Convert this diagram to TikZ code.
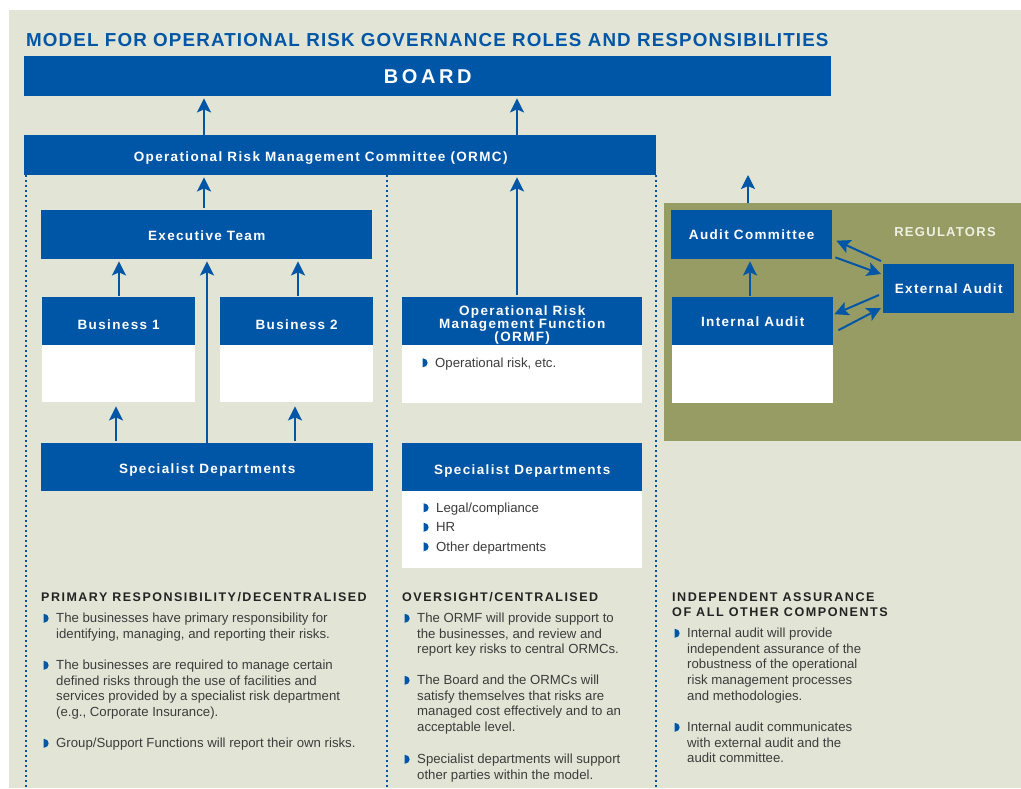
\documentclass[tikz,border=0pt]{standalone}
\usepackage{fontspec}
\usetikzlibrary{arrows.meta,calc}
\setmainfont{Liberation Sans}
\newfontfamily\titlefont[LetterSpace=6]{Liberation Sans}
\newfontfamily\boardfont[LetterSpace=18]{Liberation Sans}
\newfontfamily\labelfont[LetterSpace=10]{Liberation Sans}
\newfontfamily\headfont[LetterSpace=12]{Liberation Sans}

\definecolor{ablue}{HTML}{0056A6}
\definecolor{paper}{HTML}{E2E5D6}
\definecolor{olive}{HTML}{979C64}
\definecolor{bodytext}{HTML}{3C3C3C}
\definecolor{headtext}{HTML}{232323}
\definecolor{regtext}{HTML}{EEF0E2}

% small D-shaped bullet, hung to the left of the first line
\newcommand\bulletmark{\tikz[baseline=0pt]\fill[ablue] (0pt,0pt) -- (0pt,9pt)
  arc[start angle=90, end angle=-90, x radius=5pt, y radius=4.5pt] -- cycle;}
\newcommand\bitem{\llap{\bulletmark\hspace{7.5pt}}}

\tikzset{
  hbox/.style={rectangle, fill=ablue, text=white, inner sep=0, anchor=north west,
    font=\labelfont\bfseries\fontsize{13.5}{13.5}\selectfont,
    text height=9.7pt, text depth=0pt},
  boxlabel/.style={inner sep=0, text=white,
    font=\labelfont\bfseries\fontsize{13.5}{13.5}\selectfont},
  wbox/.style={rectangle, fill=white, inner sep=0, anchor=north west},
  arr/.style={draw=ablue, line width=2pt,
    -{Stealth[length=14pt,width=14pt,inset=3pt]}, shorten >=2pt},
  dotline/.style={draw=ablue, line width=2pt, dash pattern=on 2pt off 3pt},
  para/.style={anchor=north west, inner sep=0, align=left, text=bodytext,
    font=\fontsize{13.2}{15.6}\selectfont},
  colhead/.style={inner sep=0, align=left, text=headtext,
    font=\headfont\bfseries\fontsize{12.5}{15}\selectfont},
}

\begin{document}
\begin{tikzpicture}[x=1pt,y=-1pt]
  \useasboundingbox (0,0) rectangle (1021,788);
  \fill[white] (0,0) rectangle (1021,788);
  \fill[paper] (9,10) rectangle (1021,788);
  \node[fill=olive, inner sep=0, anchor=north west, minimum width=357pt, minimum height=238pt] (olive) at (664,203) {};

  % title and top bars
  \node[anchor=west, inner sep=0, text=ablue, font=\titlefont\bfseries\fontsize{18.8}{20}\selectfont] (title) at (26,40)
    {MODEL FOR OPERATIONAL RISK GOVERNANCE ROLES AND RESPONSIBILITIES};
  \node[hbox, minimum width=807pt, minimum height=40pt, text height=14.3pt,
        font=\boardfont\bfseries\fontsize{20}{20}\selectfont] (board) at (24,56) {BOARD};
  \node[hbox, minimum width=632pt, minimum height=40pt] (ormc) at (24,135) {};
  \node[boxlabel, text height=13.1pt, text depth=0pt] (ormclabel) at ([xshift=-19.5pt]ormc.center)
    {Operational Risk Management Committee (ORMC)};

  % column separators
  \draw[dotline] ([xshift=2pt]ormc.south west) -- ++(0,613);
  \draw[dotline] ([xshift=-269pt]ormc.south east) -- ++(0,613);
  \draw[dotline] (ormc.south east) -- ++(0,613);

  % primary responsibility column
  \node[hbox, minimum width=331pt, minimum height=49pt, text height=11.7pt] (exec) at (41,210) {Executive Team};
  \node[hbox, minimum width=153pt, minimum height=48pt, text height=17pt] (b1) at (42,297) {Business 1};
  \node[wbox, minimum width=153pt, minimum height=57pt] (b1b) at (42,345) {};
  \node[hbox, minimum width=153pt, minimum height=48pt, text height=17pt] (b2) at (220,297) {Business 2};
  \node[wbox, minimum width=153pt, minimum height=57pt] (b2b) at (220,345) {};
  \node[hbox, minimum width=332pt, minimum height=48pt, text height=12.3pt] (specL) at (41,443) {Specialist Departments};

  % oversight column
  \node[hbox, minimum width=240pt, minimum height=48pt] (ormf) at (402,297) {};
  \node[boxlabel, align=center, font=\labelfont\bfseries\fontsize{13.5}{12.6}\selectfont] (ormflabel)
    at ([yshift=-4pt]ormf.center) {Operational Risk\\Management Function\\(ORMF)};
  \node[wbox, minimum width=240pt, minimum height=58pt] (ormfb) at (402,345) {};
  \node[para] (ormfi) at (435,357.5) {\bitem Operational risk, etc.};
  \node[hbox, minimum width=240pt, minimum height=48pt, text height=13.7pt] (specM) at (402,443) {Specialist Departments};
  \node[wbox, minimum width=240pt, minimum height=77pt] (specMb) at (402,491) {};
  \node[para, font=\fontsize{13.2}{19.5}\selectfont] (specMi) at (436,502.5)
    {\bitem Legal/compliance\\\bitem HR\\\bitem Other departments};

  % audit column
  \node[hbox, minimum width=161pt, minimum height=49pt] (ac) at (671,210) {Audit Committee};
  \node[hbox, minimum width=161pt, minimum height=48pt, text height=11.1pt] (ia) at (672,297) {Internal Audit};
  \node[wbox, minimum width=161pt, minimum height=58pt] (iab) at (672,345) {};
  \node[hbox, minimum width=131pt, minimum height=49pt] (ea) at (883,264) {External Audit};
  \node[inner sep=0, text=regtext, font=\labelfont\bfseries\fontsize{13}{13}\selectfont] (reg) at (945,232) {REGULATORS};
  \coordinate (acup) at (748,175);

  % reporting lines
  \coordinate (xa) at (204,0);
  \coordinate (xb) at (517,0);
  \draw[arr] (ormc.north -| xa) -- (board.south -| xa);
  \draw[arr] (ormc.north -| xb) -- (board.south -| xb);
  \draw[arr] ([yshift=2pt]exec.north -| xa) -- (ormc.south -| xa);
  \draw[arr] ([yshift=2pt]ormf.north -| xb) -- (ormc.south -| xb);
  \draw[arr, shorten >=0pt] (olive.north -| acup) -- (acup);
  \draw[arr] ([xshift=77pt,yshift=1pt]b1.north west) -- ([xshift=78pt]exec.south west);
  \draw[arr] ([xshift=78pt,yshift=1pt]b2.north west) -- ([xshift=257pt]exec.south west);
  \draw[arr] ([xshift=166pt]specL.north west) -- ([xshift=166pt]exec.south west);
  \draw[arr] ([xshift=75pt,yshift=2pt]specL.north west) -- ([xshift=74pt,yshift=-2pt]b1b.south west);
  \draw[arr] ([xshift=254pt,yshift=2pt]specL.north west) -- ([xshift=75pt,yshift=-2pt]b2b.south west);
  \draw[arr] ([xshift=78pt,yshift=1pt]ia.north west) -- ([xshift=79pt]ac.south west);

  % exchanges with external audit
  \draw[arr, shorten >=0pt] ([xshift=-2pt,yshift=3pt]ea.north west) -- ([xshift=4pt,yshift=-6pt]ac.east);
  \draw[arr, shorten >=0pt] ([xshift=3pt,yshift=2pt]ac.south east) -- ([xshift=-2pt,yshift=-10pt]ea.north west);
  \draw[arr, shorten >=0pt] ([xshift=-4pt,yshift=-31pt]ea.north west) -- ([xshift=1pt,yshift=7pt]ia.east);
  \draw[arr, shorten >=0pt] ([xshift=5pt,yshift=-9pt]ia.east) -- ([xshift=-2pt,yshift=-44pt]ea.north west);

  % column texts
  \node[colhead, anchor=west] (h1) at (41,597) {PRIMARY RESPONSIBILITY/DECENTRALISED};
  \node[para] (p1) at (56,613) {\bitem The businesses have primary responsibility for\\identifying, managing, and reporting their risks.};
  \node[para] (p2) at (56,660) {\bitem The businesses are required to manage certain\\defined risks through the use of facilities and\\services provided by a specialist risk department\\(e.g., Corporate Insurance).};
  \node[para] (p3) at (56,738) {\bitem Group/Support Functions will report their own risks.};

  \node[colhead, anchor=west] (h2) at (402,597) {OVERSIGHT/CENTRALISED};
  \node[para] (m1) at (417,613) {\bitem The ORMF will provide support to\\the businesses, and review and\\report key risks to central ORMCs.};
  \node[para] (m2) at (417,675) {\bitem The Board and the ORMCs will\\satisfy themselves that risks are\\managed cost effectively and to an\\acceptable level.};
  \node[para] (m3) at (417,754) {\bitem Specialist departments will support\\other parties within the model.};

  \node[colhead, anchor=north west, font=\headfont\bfseries\fontsize{12.6}{15}\selectfont] (h3) at (672,592.5) {INDEPENDENT ASSURANCE\\OF ALL OTHER COMPONENTS};
  \node[para] (r1) at (687,628) {\bitem Internal audit will provide\\independent assurance of the\\robustness of the operational\\risk management processes\\and methodologies.};
  \node[para] (r2) at (687,722) {\bitem Internal audit communicates\\with external audit and the\\audit committee.};
\end{tikzpicture}
\end{document}
